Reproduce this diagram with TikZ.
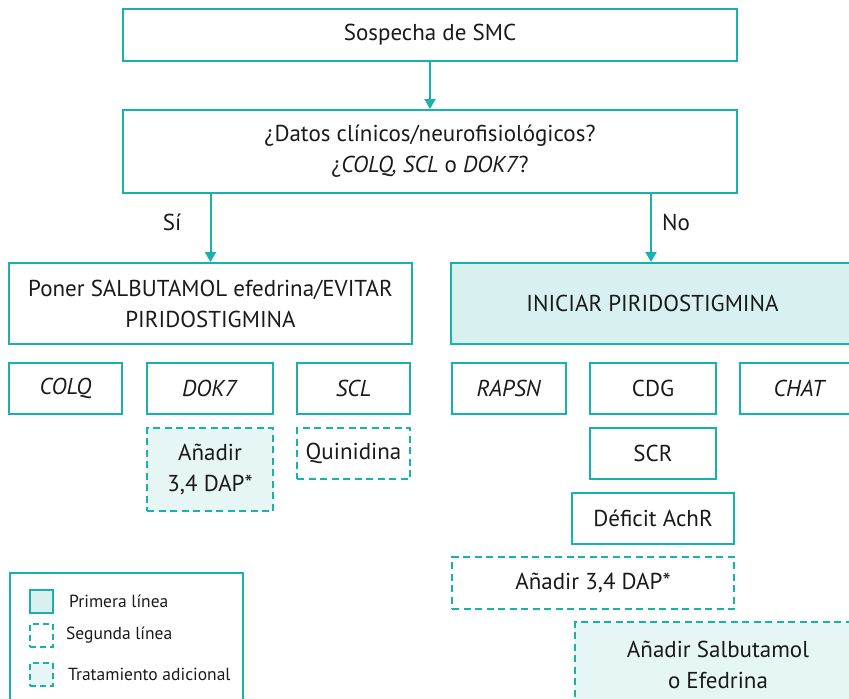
\documentclass[tikz,border=0pt]{standalone}
\usepackage{fontspec}
\setmainfont{PT Sans}
\usetikzlibrary{arrows.meta}
\definecolor{tealline}{HTML}{17B2AE}
\definecolor{tealfill}{HTML}{D8F1F0}
\definecolor{tealfill2}{HTML}{E6F6F5}
\definecolor{txt}{HTML}{1A1A1A}
\begin{document}
\begin{tikzpicture}[x=1pt,y=-1pt,
  box/.style={draw=tealline, line width=2pt, align=center, text=txt, inner sep=0pt,
    font=\fontsize{23}{31}\selectfont},
  primbox/.style={box, fill=tealfill},
  dbox/.style={box, dash pattern=on 7pt off 4.5pt},
  dfbox/.style={dbox, fill=tealfill2},
  arr/.style={draw=tealline, line width=2pt, -{Triangle[width=11pt,length=10pt]}},
  lbl/.style={text=txt, font=\fontsize{23}{28}\selectfont, inner sep=0pt},
  leg/.style={text=txt, font=\fontsize{17.5}{21}\selectfont, inner sep=0pt, anchor=west}
]
\useasboundingbox (0,0) rectangle (849,699);
\clip (0,0) rectangle (849,699);

\node[box, minimum width=614pt, minimum height=52pt] (s1) at (430,35) {Sospecha de SMC};
\node[box, minimum width=614pt, minimum height=83pt] (s2) at (430,151.5)
  {¿Datos clínicos/neurofisiológicos?\\¿\textit{COLQ, SCL} o \textit{DOK7}?};
\node[box, minimum width=403pt, minimum height=81pt] (left) at (210.5,303.5)
  {Poner SALBUTAMOL efedrina/EVITAR\\PIRIDOSTIGMINA};
\node[primbox, minimum width=409pt, minimum height=81pt] (right) at (655.5,303.5)
  {\hspace*{-6pt}INICIAR PIRIDOSTIGMINA};

\coordinate (nox) at (651,0);
\draw[arr] (s1.south) -- (s2.north);
\draw[arr] (s2.south -| left.north) -- (left.north);
\draw[arr] (s2.south -| nox) -- (right.north -| nox);
\node[lbl] (si) at (172,222) {Sí};
\node[lbl] (no) at (676,222) {No};

\node[box, minimum width=113pt, minimum height=51pt] (colq) at (65.5,388.5) {\textit{COLQ}};
\node[box, minimum width=126pt, minimum height=51pt] (dok7) at (210,388.5) {\textit{DOK7}};
\node[box, minimum width=113pt, minimum height=51pt] (scl) at (353.5,388.5) {\textit{SCL}};
\node[box, minimum width=114pt, minimum height=51pt] (rapsn) at (509,388.5) {\textit{RAPSN}};
\node[box, minimum width=126pt, minimum height=51pt] (cdg) at (653,388.5) {CDG};
\node[box, minimum width=120pt, minimum height=51pt] (chat) at (800,388.5) {\textit{CHAT}};

\node[dfbox, minimum width=126pt, minimum height=83pt] (dap1) at (210,469.5) {Añadir\\3,4 DAP*};
\node[dbox, minimum width=113pt, minimum height=51pt] (quin) at (353.5,453.5) {Quinidina};
\node[box, minimum width=126pt, minimum height=51pt] (scr) at (653,453.5) {SCR};
\node[box, minimum width=162pt, minimum height=51pt] (achr) at (653,518.5) {Déficit AchR};
\node[dbox, minimum width=282pt, minimum height=52pt] (dap2) at (593,583) {Añadir 3,4 DAP*};
\node[dfbox, minimum width=286pt, minimum height=85pt] (salb) at (718,664.5) {Añadir Salbutamol\\o Efedrina};

\node[draw=tealline, line width=2pt, minimum width=233pt, minimum height=147pt, inner sep=0pt] (legend) at (126.5,646.5) {};
\node[draw=tealline, fill=tealfill, line width=2pt, minimum width=23pt, minimum height=23pt, inner sep=0pt] (lg1) at (41.5,601) {};
\node[draw=tealline, line width=2pt, dash pattern=on 6pt off 4pt, minimum width=23pt, minimum height=23pt, inner sep=0pt] (lg2) at (41.5,635.5) {};
\node[draw=tealline, fill=tealfill2, line width=2pt, dash pattern=on 6pt off 4pt, minimum width=23pt, minimum height=23pt, inner sep=0pt] (lg3) at (41.5,674) {};
\node[leg] (lt1) at (69,601) {Primera línea};
\node[leg] (lt2) at (66,635.5) {Segunda línea};
\node[leg] (lt3) at (68,674) {Tratamiento adicional};
\end{tikzpicture}
\end{document}
